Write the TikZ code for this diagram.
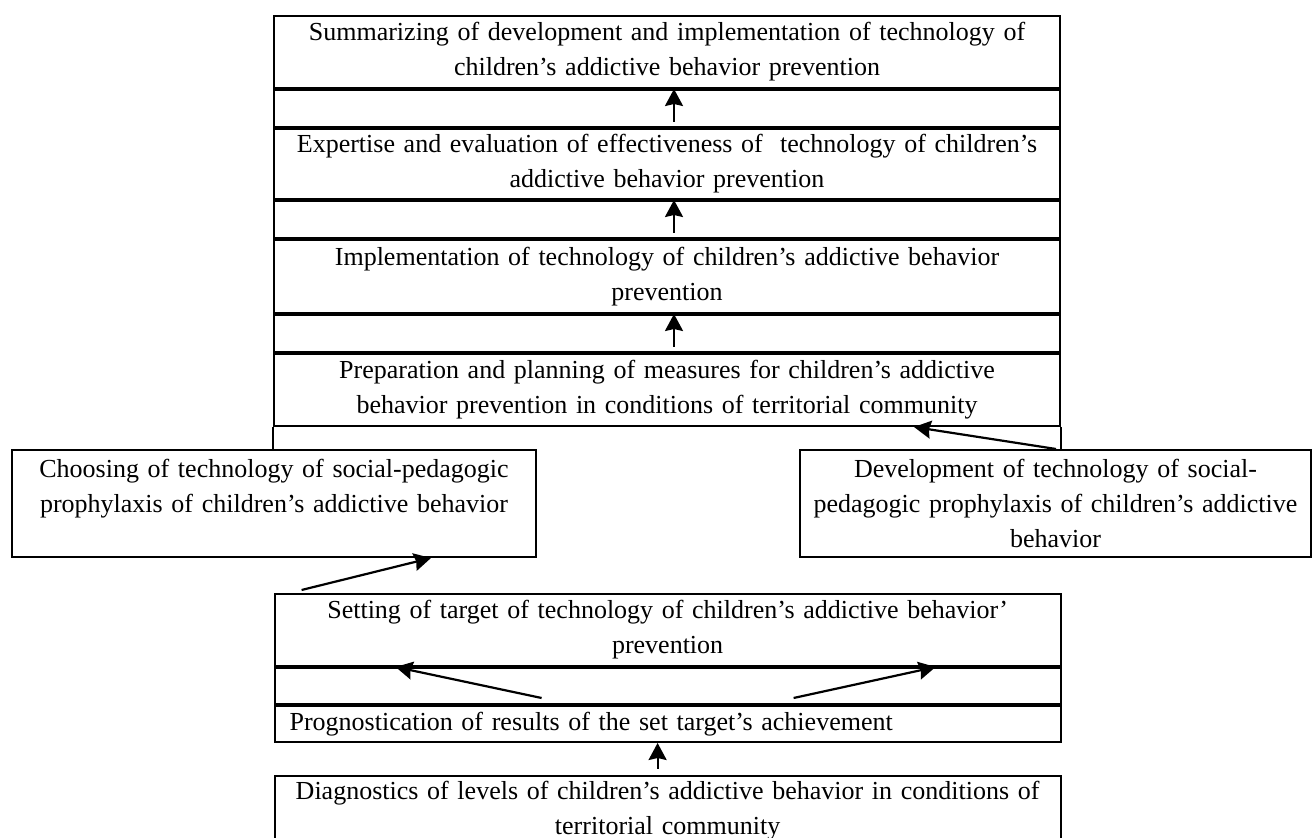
\documentclass[tikz,border=0pt]{standalone}
\usepackage{fontspec}
\setmainfont{Liberation Serif}
\usetikzlibrary{arrows.meta}
\tikzset{
  stage/.style={draw, line width=1pt, anchor=north west, inner sep=0pt,
    minimum width=393pt, text width=385pt, align=center,
    font=\fontsize{13pt}{17.5pt}\selectfont},
  spacer/.style={draw, line width=1pt, anchor=north west, inner sep=0pt,
    minimum width=393pt, minimum height=18.5pt},
  sidebox/.style={stage, minimum height=53.5pt},
  flow/.style={-{Stealth[length=8.5pt,width=9pt,inset=1pt]}, line width=1.1pt}
}

\begin{document}
\begin{tikzpicture}[x=0.5pt, y=-0.5pt]
  \useasboundingbox (0,0) rectangle (1312,838);
  \clip (0,0) rectangle (1312,838);

  \node[stage, minimum height=36pt] (summ) at (273,15)
    {Summarizing of development and implementation of technology of\\children’s addictive behavior prevention};
  \node[spacer] (gapa) at (summ.south west) {};
  \node[stage, minimum height=35pt] (expert) at (gapa.south west)
    {Expertise and evaluation of effectiveness of \ technology of children’s\\addictive behavior prevention};
  \node[spacer] (gapb) at (expert.south west) {};
  \node[stage, minimum height=36.5pt] (impl) at (gapb.south west)
    {Implementation of technology of children’s addictive behavior\\prevention};
  \node[spacer] (gapc) at (impl.south west) {};
  \node[stage, minimum height=36pt] (prep) at (gapc.south west)
    {Preparation and planning of measures for children’s addictive\\behavior prevention in conditions of territorial community};

  \node[sidebox, minimum width=262pt, text width=255pt] (choose) at (11,449)
    {Choosing of technology of social-pedagogic\\prophylaxis of children’s addictive behavior\\~};
  \node[sidebox, minimum width=255.5pt, text width=250pt] (devel) at (799,449)
    {Development of technology of social-\\pedagogic prophylaxis of children’s addictive\\behavior};
  \draw[line width=1pt] (prep.south west) -- (prep.south west |- choose.north);
  \draw[line width=1pt] (prep.south east) -- (prep.south east |- devel.north);

  \node[stage, minimum height=36pt] (setting) at (273.6,593)
    {Setting of target of technology of children’s addictive behavior’\\prevention};
  \node[spacer, minimum height=18pt] (gapd) at (setting.south west) {};
  \node[stage, minimum height=18pt, align=left, text width=378pt, inner xsep=7.5pt] (prog) at (gapd.south west)
    {Prognostication of results of the set target’s achievement};
  \node[stage, minimum height=35pt] (diag) at (273.6,775)
    {Diagnostics of levels of children’s addictive behavior in conditions of\\territorial community};

  \draw[flow] ([xshift=3.5pt,yshift=3pt]gapa.south) -- ([xshift=3.5pt]gapa.north);
  \draw[flow] ([xshift=3.5pt,yshift=3pt]gapb.south) -- ([xshift=3.5pt]gapb.north);
  \draw[flow] ([xshift=3.5pt,yshift=3pt]gapc.south) -- ([xshift=3.5pt]gapc.north);
  \draw[flow] ([xshift=128.5pt]devel.north west) -- ([xshift=-73.5pt]prep.south east);
  \draw[flow] ([xshift=14pt,yshift=1.5pt]setting.north west) -- ([xshift=210pt]choose.south west);
  \draw[flow] ([xshift=-63pt,yshift=3.5pt]gapd.south) -- ([xshift=-136pt]gapd.north);
  \draw[flow] ([xshift=63pt,yshift=3.5pt]gapd.south) -- ([xshift=134pt]gapd.north);
  \draw[flow] ([xshift=-5pt,yshift=3pt]diag.north) -- ([xshift=-5pt]prog.south);
\end{tikzpicture}
\end{document}
